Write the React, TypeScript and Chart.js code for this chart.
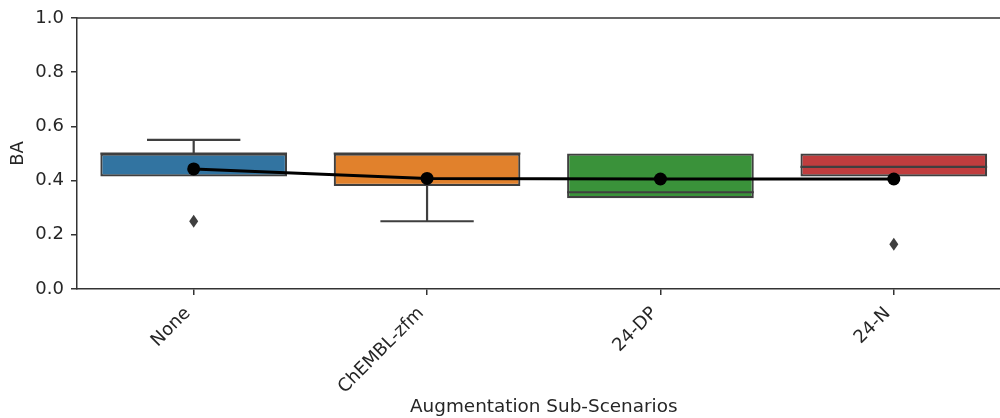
import React, { useEffect, useRef } from "react";
import { Chart, registerables } from "chart.js";

Chart.register(...registerables);

const categories = ["None", "ChEMBL-zfm", "24-DP", "24-N"];
const q1 = [0.415, 0.38, 0.335, 0.415];
const q3 = [0.5, 0.5, 0.5, 0.5];
const medians = [0.5, 0.5, 0.357, 0.451];
const whiskerLow = [0.415, 0.25, 0.335, 0.415];
const whiskerHigh = [0.55, 0.5, 0.5, 0.5];
const outliers = [[0.25], [], [], [0.165]];
const means = [0.443, 0.408, 0.406, 0.406];
const yTicks = [0, 0.2, 0.4, 0.6, 0.8, 1.0];

const boxColors = ["#3274a1", "#e1812c", "#3a923a", "#c03d3e"];
const edge = "#3f3f3f";
const axisColor = "#333333";
const textColor = "#262626";
const FONT = "'DejaVu Sans', sans-serif";

const boxPlugin = {
  id: "boxExtras",
  afterDatasetDraw(chart: any, args: any) {
    if (args.index !== 1) return;
    const { ctx } = chart;
    const x = chart.scales.x;
    const y = chart.scales.y;
    const meta = chart.getDatasetMeta(1);
    ctx.save();
    ctx.strokeStyle = edge;
    ctx.fillStyle = edge;
    ctx.lineWidth = 2.2;
    categories.forEach((_, i) => {
      const bar = meta.data[i];
      const cx = x.getPixelForValue(i);
      const half = bar.width / 2;
      const yq1 = y.getPixelForValue(q1[i]);
      const yq3 = y.getPixelForValue(q3[i]);
      const ylo = y.getPixelForValue(whiskerLow[i]);
      const yhi = y.getPixelForValue(whiskerHigh[i]);
      ctx.beginPath();
      if (whiskerHigh[i] > q3[i]) {
        ctx.moveTo(cx, yq3);
        ctx.lineTo(cx, yhi);
        ctx.moveTo(cx - half / 2, yhi);
        ctx.lineTo(cx + half / 2, yhi);
      }
      if (whiskerLow[i] < q1[i]) {
        ctx.moveTo(cx, yq1);
        ctx.lineTo(cx, ylo);
        ctx.moveTo(cx - half / 2, ylo);
        ctx.lineTo(cx + half / 2, ylo);
      }
      const ym = y.getPixelForValue(medians[i]);
      ctx.moveTo(cx - half, ym);
      ctx.lineTo(cx + half, ym);
      ctx.stroke();
      outliers[i].forEach((v) => {
        const oy = y.getPixelForValue(v);
        ctx.beginPath();
        ctx.moveTo(cx, oy - 6.5);
        ctx.lineTo(cx + 4.5, oy);
        ctx.lineTo(cx, oy + 6.5);
        ctx.lineTo(cx - 4.5, oy);
        ctx.closePath();
        ctx.fill();
      });
    });
    ctx.restore();
  },
  afterDraw(chart: any) {
    const { ctx, chartArea } = chart;
    ctx.save();
    ctx.strokeStyle = axisColor;
    ctx.lineWidth = 1.5;
    ctx.beginPath();
    ctx.moveTo(chartArea.left, chartArea.top);
    ctx.lineTo(chartArea.right, chartArea.top);
    ctx.lineTo(chartArea.right, chartArea.bottom);
    ctx.stroke();
    ctx.restore();
  },
};

export default function App() {
  const ref = useRef<HTMLCanvasElement>(null);
  useEffect(() => {
    if (!ref.current) return;
    const chart = new Chart(ref.current, {
      type: "bar",
      data: {
        labels: categories,
        datasets: [
          {
            type: "line",
            data: means,
            borderColor: "#000000",
            backgroundColor: "#000000",
            borderWidth: 3,
            pointRadius: 6.5,
            pointBackgroundColor: "#000000",
            pointBorderWidth: 0,
            tension: 0,
            order: 1,
          } as any,
          {
            type: "bar",
            data: categories.map((_, i) => [q1[i], q3[i]]),
            backgroundColor: boxColors,
            borderColor: edge,
            borderWidth: 2.2,
            borderSkipped: false,
            barPercentage: 0.8,
            categoryPercentage: 1.0,
            order: 2,
          } as any,
        ],
      },
      options: {
        responsive: false,
        animation: false,
        layout: { padding: { top: 18, right: 2, left: 0, bottom: 0 } },
        plugins: { legend: { display: false }, tooltip: { enabled: false } },
        scales: {
          x: {
            type: "category",
            offset: true,
            grid: {
              offset: false,
              drawOnChartArea: false,
              drawTicks: true,
              tickLength: 6,
              tickColor: axisColor,
              lineWidth: 1.5,
            },
            border: { display: true, color: axisColor, width: 1.5 },
            ticks: {
              minRotation: 45,
              maxRotation: 45,
              color: textColor,
              padding: 8,
              labelOffset: -6,
              font: { family: FONT, size: 18 },
            },
            title: {
              display: true,
              text: "Augmentation Sub-Scenarios",
              color: textColor,
              font: { family: FONT, size: 18.4 },
              padding: { top: 4, bottom: 0 },
            },
            afterFit: (s: any) => {
              s.height = 129;
            },
          },
          y: {
            min: 0,
            max: 1,
            afterBuildTicks: (s: any) => {
              s.ticks = yTicks.map((v) => ({ value: v }));
            },
            grid: {
              drawOnChartArea: false,
              drawTicks: true,
              tickLength: 6,
              tickColor: axisColor,
              lineWidth: 1.5,
            },
            border: { display: true, color: axisColor, width: 1.5 },
            ticks: {
              color: textColor,
              padding: 7,
              font: { family: FONT, size: 18 },
              callback: (v: any) => Number(v).toFixed(1),
            },
            title: {
              display: true,
              text: "BA",
              color: textColor,
              font: { family: FONT, size: 18 },
              padding: { top: 8, bottom: 4 },
            },
            afterFit: (s: any) => {
              s.width = 77;
            },
          },
        },
      },
      plugins: [boxPlugin],
    });
    return () => chart.destroy();
  }, []);
  return (
    <div
      style={{
        position: "fixed",
        left: 0,
        top: 0,
        width: 1000,
        height: 418,
        overflow: "hidden",
        background: "#ffffff",
      }}
    >
      <canvas ref={ref} width={1017} height={418} style={{ display: "block" }} />
    </div>
  );
}
